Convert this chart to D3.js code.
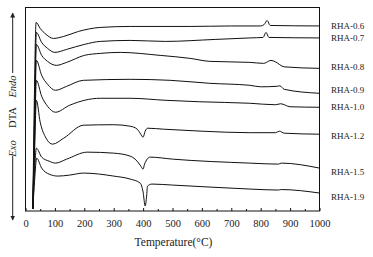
<!DOCTYPE html>
<html>
<head>
<meta charset="utf-8">
<script src="https://cdn.jsdelivr.net/npm/d3@7"></script>
<style>
  body { margin: 0; background: #fff; }
  svg { display: block; font-family: "Liberation Serif", "Times New Roman", serif; }
</style>
</head>
<body>
<div id="chart"></div>
<script>
// DTA signal (arbitrary units, curves offset vertically) vs temperature in °C
const sampleNames = ["RHA-0.6", "RHA-0.7", "RHA-0.8", "RHA-0.9", "RHA-1.0", "RHA-1.2", "RHA-1.5", "RHA-1.9"];

const rha06 = [[25,2],[30,111],[36,189],[50,183],[70,177],[95,173],[130,175],[180,180],[254,184],[356,185],[560,185],[700,185.5],[800,185.5],[812,187],[822,191],[832,186],[1000,185.5]];
const rha07 = [[25,2],[31,101],[37,179],[55,169],[75,163],[100,159],[140,162],[200,167],[254,170],[356,171],[475,170],[645,172],[763,173.5],[808,174],[818,179],[828,174],[1000,173.5]];
const rha08 = [[25,2],[31,91],[37,167],[55,156],[75,150],[105,146],[140,149],[200,156],[254,158],[322,159],[458,156],[560,153],[627,150],[763,149],[810,148],[835,151],[850,149.5],[880,144.5],[1000,143]];
const rha09 = [[25,2],[31,81],[37,151],[55,136],[75,127],[102,121],[140,125],[197,131],[356,132],[492,131],[627,128],[763,126],[800,124.5],[855,125],[865,125.5],[880,122],[1000,118]];
const rha10 = [[25,2],[31,71],[37,131],[55,115],[75,105],[102,99],[150,106],[254,113],[356,113],[475,111],[593,109.5],[763,108],[850,106.5],[868,107.5],[900,104.5],[1000,104]];
const rha12 = [[25,2],[31,61],[37,111],[50,89],[70,73],[92,67],[130,73],[197,86],[300,86.5],[356,85],[380,82],[392,77],[400,74],[407,80],[415,83],[470,82],[600,80],[763,78.5],[850,78.5],[864,80],[880,78],[1000,77]];
const rha15 = [[25,2],[31,41],[37,63],[55,54],[80,50],[102,48],[140,52],[210,59],[300,58],[356,55],[373,52],[390,46],[400,42],[405,47],[424,54],[500,52],[763,48],[860,47],[870,48],[1000,43]];
const rha19 = [[25,2],[31,31],[38,53],[55,43],[80,37],[110,35],[150,36],[197,38],[300,35],[356,32],[390,28],[400,19],[407,5],[412,15],[415,25],[430,27],[500,26],[763,22],[860,21],[870,21.5],[1000,18]];

const seriesValues = [rha06, rha07, rha08, rha09, rha10, rha12, rha15, rha19];
// label heights on the same signal axis
const labelLevels = [186, 174, 145, 121, 104, 75, 39, 14];
const xTicks = [0, 100, 200, 300, 400, 500, 600, 700, 800, 900, 1000];

const width = 373, height = 257;
const margin = {top: 7.5, right: 53.5, bottom: 46, left: 25.5};
const innerW = width - margin.left - margin.right;
const innerH = height - margin.top - margin.bottom;

const svg = d3.select("#chart").append("svg")
    .attr("width", width)
    .attr("height", height);

const g = svg.append("g")
    .attr("transform", `translate(${margin.left},${margin.top})`);

const x = d3.scaleLinear().domain([0, 1000]).range([0, innerW]);
const y = d3.scaleLinear().domain([0, 204]).range([innerH, 0]);

// curves
const line = d3.line()
    .x(d => x(d[0]))
    .y(d => y(d[1]))
    .curve(d3.curveMonotoneX);

g.selectAll(".curve")
    .data(seriesValues)
    .join("path")
    .attr("class", "curve")
    .attr("d", line)
    .attr("fill", "none")
    .attr("stroke", "#111")
    .attr("stroke-width", 1);

// minor ticks (every 50), inward
const minorAxis = d3.axisBottom(x)
    .tickValues(d3.range(50, 1000, 100))
    .tickSize(-2).tickSizeOuter(0).tickFormat("");
g.append("g")
    .attr("transform", `translate(0,${innerH})`)
    .call(minorAxis)
    .call(a => a.select(".domain").remove())
    .call(a => a.selectAll(".tick line").attr("stroke", "#111"));

// major ticks + labels
const xAxis = d3.axisBottom(x)
    .tickValues(xTicks)
    .tickFormat(d3.format("d"))
    .tickSize(-3).tickSizeOuter(0).tickPadding(9);
g.append("g")
    .attr("transform", `translate(0,${innerH})`)
    .call(xAxis)
    .call(a => a.select(".domain").remove())
    .call(a => a.selectAll(".tick line").attr("stroke", "#111"))
    .call(a => a.selectAll(".tick text")
        .attr("font-family", "Liberation Serif, serif")
        .attr("font-size", 10.5)
        .attr("fill", "#222"));

// frame
g.append("rect")
    .attr("width", innerW)
    .attr("height", innerH)
    .attr("fill", "none")
    .attr("stroke", "#111")
    .attr("stroke-width", 1);

// series labels
g.selectAll(".series-label")
    .data(sampleNames)
    .join("text")
    .attr("class", "series-label")
    .attr("x", innerW + 11.5)
    .attr("y", (d, i) => y(labelLevels[i]))
    .attr("dy", "0.35em")
    .attr("font-size", 9)
    .attr("fill", "#222")
    .text(d => d);

// x title
svg.append("text")
    .attr("x", margin.left + innerW / 2 + 1)
    .attr("y", 246)
    .attr("text-anchor", "middle")
    .attr("font-size", 11.5)
    .attr("fill", "#222")
    .text("Temperature(°C)");

// y title with arrows
const ax = 12.7;
const defs = svg.append("defs");
defs.append("marker")
    .attr("id", "arrow")
    .attr("viewBox", "0 0 10 10")
    .attr("refX", 9).attr("refY", 5)
    .attr("markerWidth", 5).attr("markerHeight", 6)
    .attr("orient", "auto")
    .append("path")
    .attr("d", "M0,0 L10,5 L0,10 z")
    .attr("fill", "#222");

svg.append("line")
    .attr("x1", ax).attr("x2", ax)
    .attr("y1", 73).attr("y2", 13)
    .attr("stroke", "#222").attr("stroke-width", 1)
    .attr("marker-end", "url(#arrow)");
svg.append("line")
    .attr("x1", ax).attr("x2", ax)
    .attr("y1", 156).attr("y2", 220)
    .attr("stroke", "#222").attr("stroke-width", 1)
    .attr("marker-end", "url(#arrow)");

const yTitle = [
    {text: "Endo", cy: 86.5, italic: true},
    {text: "DTA", cy: 117.5, italic: false},
    {text: "Exo", cy: 148.5, italic: true}
];
svg.selectAll(".y-title")
    .data(yTitle)
    .join("text")
    .attr("class", "y-title")
    .attr("transform", d => `translate(${ax},${d.cy}) rotate(-90)`)
    .attr("text-anchor", "middle")
    .attr("dy", "0.35em")
    .attr("font-size", 10.5)
    .attr("font-style", d => d.italic ? "italic" : "normal")
    .attr("fill", "#222")
    .text(d => d.text);
</script>
</body>
</html>
